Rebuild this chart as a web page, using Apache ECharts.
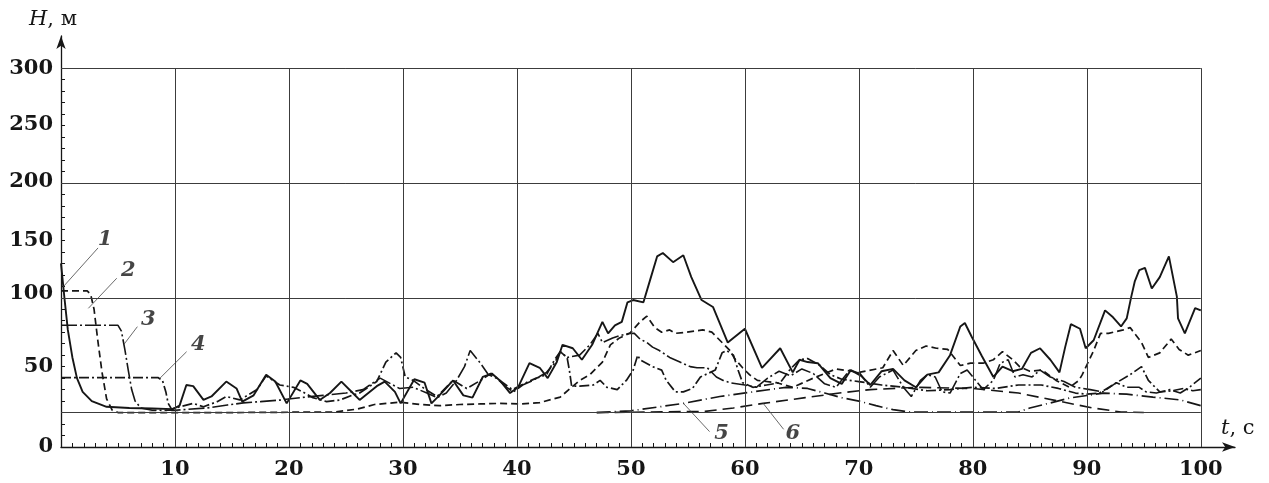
<!DOCTYPE html>
<html lang="ru">
<head>
<meta charset="UTF-8">
<title>H(t)</title>
<style>
    *{margin:0;padding:0;}
    body{background:#fff;}
    #main{width:1269px;height:483px;}
</style>
</head>
<body>
<div id="main"></div>
<script src="https://cdn.jsdelivr.net/npm/echarts@6/dist/echarts.min.js"></script>
<script>
    // кривые H(t), точки [t, H]
    var h1 = [[0,130],[0.3,100],[0.6,72],[1,48],[1.4,30],[1.9,18],[2.7,10],[4,5],[6,4],[8,3.5],[9.8,3],[10.4,6],[11,24],[11.6,23],[12.5,11],[13.2,14],[14.5,27],[15.4,21],[15.9,9.5],[16.9,15],[18,33],[18.8,27],[19.8,8],[21,28],[21.6,25],[22.7,11],[23.6,17],[24.6,27],[25.6,17],[26.2,11],[27.7,23],[28.4,27],[29.3,18],[29.8,8],[31,29],[31.9,26],[32.5,8],[33.2,15],[34.4,28],[35.3,15],[36.1,13],[37,31],[37.8,34],[38.5,28],[39.4,17],[40.1,22],[41.1,43],[42,39],[42.7,30],[43.5,44],[44,59],[44.9,56],[45.7,46],[46.6,59],[47.5,79],[48,69],[48.6,76],[49.2,79],[49.7,96],[50.2,98],[51.1,96],[51.7,116],[52.3,136],[52.8,139],[53.7,131],[54.6,137],[55.3,118],[56.2,98],[57.2,92],[58.5,61],[60,73],[61.5,39],[63.1,56],[64.2,35],[64.8,46],[65.5,44],[66.4,43],[67.5,30],[68.5,25],[69.3,37],[70.2,32],[71,24],[72,36],[73,38],[74,28],[75,22],[76,33],[77,35],[78,50],[78.9,75],[79.3,78],[79.9,66],[80.8,49],[81.8,31],[82.6,40],[83.5,36],[84.3,38],[85.1,52],[85.9,56],[86.8,46],[87.6,35],[88.1,57],[88.6,77],[89.4,73],[89.9,56],[90.6,63],[91.6,89],[92.3,83],[93,75],[93.5,82],[93.9,101],[94.2,114],[94.6,124],[95.1,126],[95.7,108],[96.4,118],[97.2,136],[97.9,101],[98,82],[98.6,69],[99.5,91],[100,89]];
    var h2 = [[0,106],[2.3,106],[2.6,103],[2.9,90],[3.2,65],[3.6,35],[4,12],[4.5,2],[5,0],[15,0],[24,0.5],[26,3],[27.5,7],[29.7,9],[31.5,7],[33.2,6],[35,7],[36.8,7.5],[38.5,8],[40.3,7.5],[42,8.6],[43.8,13.5],[45.5,28],[46.4,33],[47.5,44],[48.2,59],[49,65],[49.9,69],[50.8,79],[51.4,84],[52.1,74],[52.7,70],[53.4,72],[53.9,69],[54.9,70],[56.3,72],[57.1,70],[57.8,63],[58.7,54],[59.1,47],[59.8,39],[60.4,33],[61.1,28],[62.8,26],[64.2,22],[66,30],[68,38],[70,35],[72.1,39],[73,54],[73.9,41],[75,54],[75.9,58],[76.8,56],[77.8,55],[78.9,41],[79.8,43],[80.9,43],[81.8,46],[82.6,53],[83.5,46],[84.1,40],[85,36],[86.1,37],[87.3,28],[88.5,22],[89.3,28],[89.6,33],[90.6,54],[91.2,69],[91.9,69],[93.2,72],[93.8,74],[94.8,61],[95.4,48],[96.4,52],[97.4,64],[98.1,55],[98.9,50],[100,54]];
    var h3 = [[0,76],[5,76],[5.3,71],[5.6,55],[5.9,37],[6.2,20],[6.5,10],[7,4],[8,2],[10,2],[12.8,4],[14.6,6.6],[16,8.4],[17.5,9.5],[19.3,11],[21,13],[23,15],[25,17],[26.5,20],[28,30],[29.7,21],[30.9,22],[32.1,17],[33,13],[33.8,17],[34.7,28],[35.4,40],[35.9,54],[36.8,43],[37.5,33],[38.2,30],[39.1,22],[39.7,18],[40.5,24],[41.4,28],[42.6,35],[43.3,43],[43.8,53],[44.4,48],[45.5,50],[46.4,59],[47.1,69],[47.5,61],[48.4,65],[49,67],[49.9,69],[50.3,69],[50.8,64],[51.4,61],[51.9,57],[52.5,54],[53.4,48],[54.3,44],[55.2,40],[55.8,39],[56.7,39],[57.5,31],[58.1,28],[58.7,26],[60,24],[61,22],[62,30],[63,36],[64,32],[65,38],[66,34],[67,25],[68,22],[69.2,37],[70.1,34],[71,22],[71.8,31],[73,37],[73.9,22],[74.6,14],[75.4,28],[76,33],[76.7,31],[77.3,18],[78,17],[78.9,34],[79.5,37],[80,31],[80.9,20],[81.8,28],[82.4,43],[83.1,46],[83.7,31],[84.4,33],[85.2,31],[85.9,37],[86.8,31],[88,27],[89,22],[90.3,20],[91.4,18],[92.6,26],[93.5,22],[94.6,22],[95.2,18],[96.1,17],[97.3,20],[98.2,17],[99,22],[100,30]];
    var h4 = [[0,30.5],[8.5,30.5],[8.9,28],[9.2,18],[9.4,8],[9.7,3],[10.4,5],[11.6,8],[12.5,5],[13.7,9.5],[14.5,14],[15.7,11],[17.2,20],[18,32],[19.2,24],[20.4,22],[21.2,18],[22.1,13],[23.3,9.5],[24.5,11],[25.5,15],[26.2,17],[27.7,27],[28.5,44],[29.4,52],[29.8,48],[30.2,31],[30.9,28],[32,20],[33,14],[34.4,28],[35.6,21],[36.8,28],[37.7,34],[38.5,28],[39.6,20],[40.8,26],[41.7,30],[42.6,33],[43.3,46],[43.8,53],[44.4,48],[44.6,37],[44.8,23],[45.5,23],[46.7,24],[47.3,28],[47.9,22],[48.8,20],[49.6,28],[50.2,37],[50.6,50],[50.8,46],[51.9,40],[52.7,37],[53.1,28],[53.9,18],[54.6,18],[55.4,21],[56.1,31],[57.4,37],[58,52],[58.4,54],[59,50],[59.4,37],[59.8,26],[60.7,22],[61.9,24],[63.1,26],[64,38],[64.8,46],[65.5,47],[66.6,41],[67.5,33],[68.5,29],[70,27],[72,24],[74,22],[76,19],[78,20],[80,22],[82,21],[84,24],[86,24],[87.5,21],[89,17],[90,16],[91.1,17],[92.6,26],[93.8,33],[94.8,40],[95.4,28],[96.4,18],[97.5,19],[98.5,21],[99.3,19],[100,20]];
    var h5 = [[47,0],[50,1.5],[52.5,5],[54.6,8],[57.8,14],[60.7,18],[63.6,22],[65.5,21],[67,17],[68.5,13],[70,10],[71.5,6],[73,2.5],[74.5,0.5],[84,0.5],[85,4],[86.8,8.4],[88.5,12.7],[90.3,15.3],[91.5,17],[93.5,16],[95.8,13.5],[98.2,11],[100,6]];
    var h6 = [[47,0],[56.5,1],[59,4],[61.6,8],[65.3,13],[68.3,17],[71,20],[75,22],[80,21],[84,17],[87.5,10],[90.5,4],[93,0.5],[95,0]];

    // номера кривых и выноски
    var curveNames = ['1', '2', '3', '4', '5', '6'];
    var namePos = [[3.86,150.3],[5.9,123.6],[7.66,81.3],[12.04,58.9],[57.95,-18],[64.2,-18]];
    var leaders = [
        [[3.25,143.4],[0.18,109.4]],
        [[4.89,117],[2.4,90.8]],
        [[6.7,74.8],[5.53,59.5]],
        [[11.02,53],[8.68,29.9]],
        [[56.9,-16.6],[54.6,8.1]],
        [[63.4,-14.6],[61.6,8.1]]
    ];

    // сетка и подписи осей
    var gridX = [10,20,30,40,50,60,70,80,90,100];
    var gridY = [0,100,200,300];
    var xLabels = [10,20,30,40,50,60,70,80,90,100];
    var yLabelPos = [-30,40,104,150,201,251,300];
    var yLabelText = ['0','50','100','150','200','250','300'];

    var xTicks = [];
    for (var i = 0; i <= 100; i++) xTicks.push(i);
    var yTicks = [];
    for (var j = -30; j <= 300; j += 10) yTicks.push(j);

    var ink = '#161616';
    var serif = 'DejaVu Serif';

    var gridLines = [];
    gridX.forEach(function (x) {
        gridLines.push([{coord: [x, -30]}, {coord: [x, 300]}]);
    });
    gridY.forEach(function (y) {
        gridLines.push([{coord: [0, y]}, {coord: [100, y]}]);
    });
    var leaderLines = leaders.map(function (l) {
        return [{coord: l[0]}, {coord: l[1]}];
    });
    var nameData = namePos.map(function (p, k) {
        return [p[0], p[1], curveNames[k]];
    });

    function curve(name, data, type, width) {
        return {
            name: name,
            type: 'line',
            data: data,
            showSymbol: false,
            silent: true,
            lineStyle: {color: ink, width: width, type: type},
            z: 3
        };
    }

    var myChart = echarts.init(document.getElementById('main'));
    myChart.setOption({
        animation: false,
        backgroundColor: '#fff',
        grid: {left: 61, right: 34, top: 36, bottom: 36},
        xAxis: {
            type: 'value',
            min: 0,
            max: 103,
            name: '{i|t}, c',
            nameLocation: 'end',
            nameGap: -14,
            nameTextStyle: {
                fontFamily: serif, fontSize: 21, color: ink,
                align: 'left', verticalAlign: 'bottom', padding: [0, 0, 8, 0],
                rich: {i: {fontFamily: serif, fontSize: 21, fontStyle: 'italic', color: ink}}
            },
            axisLine: {
                onZero: false,
                lineStyle: {color: ink, width: 1.3},
                symbol: ['none', 'arrow'],
                symbolSize: [7, 13]
            },
            axisTick: {customValues: xTicks, inside: true, length: 4, lineStyle: {color: ink}},
            axisLabel: {
                customValues: xLabels,
                fontFamily: serif, fontSize: 21, fontWeight: 'bold', color: ink, margin: 12
            },
            splitLine: {show: false}
        },
        yAxis: {
            type: 'value',
            min: -30,
            max: 328,
            name: '{i|H}, м',
            nameLocation: 'end',
            nameGap: 6,
            nameTextStyle: {
                fontFamily: serif, fontSize: 21, color: ink, padding: [0, 16, 0, 0],
                rich: {i: {fontFamily: serif, fontSize: 21, fontStyle: 'italic', color: ink}}
            },
            axisLine: {
                show: true,
                onZero: false,
                lineStyle: {color: ink, width: 1.3},
                symbol: ['none', 'arrow'],
                symbolSize: [7, 13]
            },
            axisTick: {show: true, customValues: yTicks, inside: true, length: 4, lineStyle: {color: ink}},
            axisLabel: {
                customValues: yLabelPos,
                formatter: function (v) {
                    var k = yLabelPos.indexOf(v);
                    return k >= 0 ? yLabelText[k] : '';
                },
                fontFamily: serif, fontSize: 21, fontWeight: 'bold', color: ink, margin: 8
            },
            splitLine: {show: false}
        },
        series: [
            {
                name: 'grid',
                type: 'line',
                data: [],
                silent: true,
                z: 1,
                markLine: {
                    silent: true,
                    symbol: 'none',
                    label: {show: false},
                    lineStyle: {color: '#3c3c3c', width: 1, type: 'solid'},
                    data: gridLines
                }
            },
            {
                name: 'leaders',
                type: 'line',
                data: [],
                silent: true,
                z: 2,
                markLine: {
                    silent: true,
                    symbol: 'none',
                    label: {show: false},
                    lineStyle: {color: '#444', width: 0.8, type: 'solid'},
                    data: leaderLines
                }
            },
            curve('1', h1, 'solid', 1.9),
            curve('2', h2, [7, 4], 1.7),
            curve('3', h3, [16, 3, 2, 3], 1.6),
            curve('4', h4, [10, 3, 2, 3], 1.7),
            curve('5', h5, [14, 4, 1, 4], 1.7),
            curve('6', h6, [12, 6], 1.6),
            {
                name: 'names',
                type: 'scatter',
                data: nameData,
                symbolSize: 1,
                silent: true,
                itemStyle: {color: 'transparent'},
                z: 5,
                label: {
                    show: true,
                    position: 'inside',
                    formatter: function (p) { return p.data[2]; },
                    fontFamily: serif, fontSize: 21, fontStyle: 'italic', fontWeight: 'bold', color: ink
                }
            }
        ]
    });
</script>
</body>
</html>
